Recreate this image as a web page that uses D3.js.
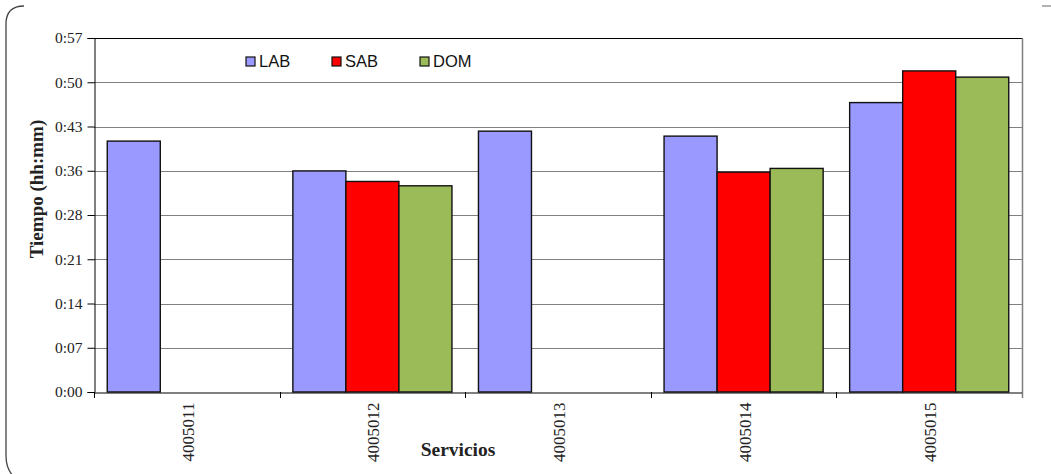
<!DOCTYPE html>
<html><head><meta charset="utf-8">
<script src="https://cdn.jsdelivr.net/npm/d3@7"></script>
<style>html,body{margin:0;padding:0;background:#fff;}svg{display:block;}</style>
</head><body>
<svg id="chart" width="1051" height="474"></svg>
<script>
const categories = ["4005011","4005012","4005013","4005014","4005015"];
const seriesNames = ["LAB","SAB","DOM"];
const LAB = [40.4, 35.6, 42.0, 41.2, 46.6];
const SAB = [null, 33.9, null, 35.4, 51.7];
const DOM = [null, 33.2, null, 36.0, 50.7];
const yTickLabels = ["0:00","0:07","0:14","0:21","0:28","0:36","0:43","0:50","0:57"];
const yMax = 57;
const colors = {LAB:"#9999FF", SAB:"#FF0000", DOM:"#9BBB59"};

const seriesData = {LAB, SAB, DOM};
const svg = d3.select("#chart");
const L = 94, R = 1022, T = 38, B = 392;

const x0 = d3.scaleBand().domain(categories).range([L, R]).padding(0);
const x1 = d3.scaleBand().domain(seriesNames).range([0, x0.bandwidth()]).paddingInner(0).paddingOuter(0.25);
const y = d3.scaleLinear().domain([0, yMax]).range([B, T]);
const tickVals = yTickLabels.map((d, i) => yMax * i / (yTickLabels.length - 1));

// frame
svg.append("path").attr("d", "M24,6 Q6,6 6,24 L6,456 Q6,468 13,476")
  .attr("fill", "none").attr("stroke", "#444").attr("stroke-width", 1.3);
svg.append("line").attr("x1", 1042).attr("x2", 1051).attr("y1", 6).attr("y2", 6)
  .attr("stroke", "#888").attr("stroke-width", 1.3);

// gridlines
svg.append("g").selectAll("line").data(tickVals.slice(1)).join("line")
  .attr("x1", L).attr("x2", R).attr("y1", d => Math.round(y(d)) + 0.5).attr("y2", d => Math.round(y(d)) + 0.5)
  .attr("stroke", (d, i, a) => i === a.length - 1 ? "#000" : "#808080").attr("stroke-width", 1);
// right border
svg.append("line").attr("x1", R + 0.5).attr("x2", R + 0.5).attr("y1", T).attr("y2", B + 6)
  .attr("stroke", "#808080").attr("stroke-width", 1.5);

// bars
const groups = svg.append("g").selectAll("g").data(categories).join("g")
  .attr("transform", d => `translate(${x0(d)},0)`);
groups.selectAll("rect").data((c, ci) => seriesNames.map(s => ({s, v: seriesData[s][ci]})).filter(d => d.v != null))
  .join("rect")
  .attr("x", d => x1(d.s)).attr("width", x1.bandwidth())
  .attr("y", d => y(d.v)).attr("height", d => B - y(d.v))
  .attr("fill", d => colors[d.s]).attr("stroke", "#111").attr("stroke-width", 1.4);

// y axis
const yAxis = d3.axisLeft(y).tickValues(tickVals).tickSize(7).tickPadding(5)
  .tickFormat((d, i) => yTickLabels[i]);
const gy = svg.append("g").attr("transform", `translate(${L + 0.5},0)`).call(yAxis);
gy.select(".domain").attr("stroke", "#000");
gy.selectAll(".tick line").attr("stroke", "#000");
gy.selectAll("text").attr("font-family", "Liberation Serif, Times New Roman, serif").attr("font-size", 15.5).attr("fill", "#222");

// x axis
const xAxis = d3.axisBottom(x0).tickSize(0).tickPadding(0);
const gx = svg.append("g").attr("transform", `translate(0,${B + 0.5})`).call(xAxis);
gx.select(".domain").attr("stroke", "#000");
gx.selectAll(".tick text")
  .attr("font-family", "Liberation Serif, Times New Roman, serif").attr("font-size", 17).attr("fill", "#222")
  .attr("transform", "rotate(-90)").attr("text-anchor", "end")
  .attr("x", -10).attr("y", 1).attr("dy", "0.35em");
// boundary ticks
const bounds = categories.map(c => x0(c)).concat([R]);
svg.append("g").selectAll("line").data(bounds).join("line")
  .attr("x1", d => Math.round(d) + 0.5).attr("x2", d => Math.round(d) + 0.5)
  .attr("y1", B).attr("y2", B + 6).attr("stroke", (d, i) => i === bounds.length - 1 ? "#808080" : "#000");

// axis titles
svg.append("text").attr("transform", "translate(43,189) rotate(-90)").attr("text-anchor", "middle")
  .attr("font-family", "Liberation Serif, Times New Roman, serif").attr("font-weight", "bold").attr("font-size", 19)
  .attr("fill", "#222").text("Tiempo (hh:mm)");
svg.append("text").attr("x", 458).attr("y", 456).attr("text-anchor", "middle")
  .attr("font-family", "Liberation Serif, Times New Roman, serif").attr("font-weight", "bold").attr("font-size", 19.5)
  .attr("fill", "#222").text("Servicios");

// legend
const legendX = {LAB: 246, SAB: 332, DOM: 420};
const lg = svg.append("g").selectAll("g").data(seriesNames).join("g")
  .attr("transform", d => `translate(${legendX[d]},57)`);
lg.append("rect").attr("width", 9).attr("height", 9).attr("fill", d => colors[d]).attr("stroke", "#111").attr("stroke-width", 1.2);
lg.append("text").attr("x", 13).attr("y", 10).attr("font-family", "Liberation Sans, Arial, sans-serif")
  .attr("font-size", 16.5).attr("fill", "#111").text(d => d);
</script>
</body></html>
